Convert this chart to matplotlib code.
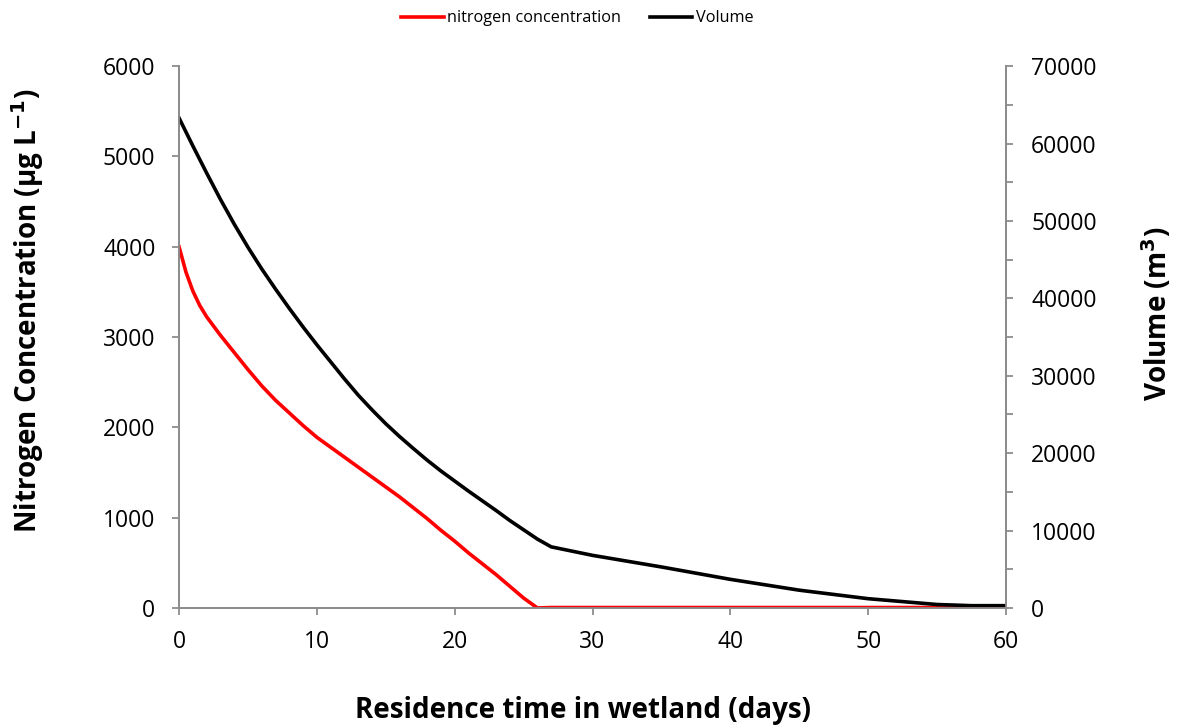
import matplotlib.pyplot as plt
from matplotlib.ticker import MultipleLocator
import numpy as np

plt.rcParams['font.family'] = ['Open Sans', 'DejaVu Sans']

# residence time (days)
days_n = [0, 0.5, 1, 1.5, 2, 3, 4, 5, 6, 7, 8, 9, 10, 11, 12, 13, 14, 15, 16, 17,
          18, 19, 20, 21, 22, 23, 24, 25, 26, 27, 30, 40, 50, 60]
nitrogen = [4000, 3720, 3510, 3350, 3225, 3020, 2830, 2640, 2460, 2300, 2160, 2020,
            1890, 1780, 1670, 1560, 1450, 1340, 1230, 1110, 990, 860, 740, 610, 490,
            370, 240, 110, 0, 5, 5, 5, 5, 5]

days_v = [0, 1, 2, 3, 4, 5, 6, 7, 8, 9, 10, 11, 12, 13, 14, 15, 16, 17, 18, 19, 20,
          21, 22, 23, 24, 25, 26, 27, 30, 35, 40, 45, 50, 55, 57.5, 60]
volume = [63300, 59700, 56200, 52800, 49600, 46600, 43800, 41200, 38700, 36300, 34000,
          31800, 29600, 27500, 25600, 23800, 22150, 20600, 19100, 17700, 16400, 15100,
          13850, 12600, 11300, 10100, 8900, 7900, 6800, 5300, 3700, 2300, 1200, 450,
          300, 300]

grey = '#8c8c8c'

fig = plt.figure(figsize=(11.78, 7.27), dpi=100)
ax = fig.add_axes([0.152, 0.1637, 0.702, 0.7453])
ax2 = ax.twinx()

l1, = ax.plot(days_n, nitrogen, color='#ff0000', lw=2.6, label='nitrogen concentration', zorder=3)
l2, = ax2.plot(days_v, volume, color='black', lw=2.6, label='Volume')

ax.set_xlim(0, 60)
ax.set_ylim(0, 6000)
ax2.set_ylim(0, 70000)
ax.xaxis.set_major_locator(MultipleLocator(10))
ax.yaxis.set_major_locator(MultipleLocator(1000))
ax2.yaxis.set_major_locator(MultipleLocator(10000))
ax2.yaxis.set_minor_locator(MultipleLocator(5000))

for a in (ax, ax2):
    a.spines['top'].set_visible(False)
    for s in ('left', 'right', 'bottom'):
        a.spines[s].set_color(grey)
        a.spines[s].set_linewidth(1.3)
    a.tick_params(colors=grey, labelcolor='black', labelsize=16.5, width=1.3, length=5)
ax2.tick_params(which='minor', colors=grey, width=1.3, length=5)
ax.tick_params(axis='x', pad=11)
ax.tick_params(axis='y', pad=12)
ax2.tick_params(axis='y', pad=13)

ax.set_xlabel('Residence time in wetland (days)', fontsize=20, fontweight='bold', labelpad=30)
ax.xaxis.label.set_x(0.489)
ax.set_ylabel('Nitrogen Concentration (μg L$^{\\mathbf{-1}}$)', fontsize=20, fontweight='bold')
ax.yaxis.set_label_coords(-0.161, 0.548)
ax2.set_ylabel('Volume (m$^{\\mathbf{3}}$)', fontsize=20, fontweight='bold')
ax2.yaxis.set_label_coords(1.162, 0.542)

fig.legend(handles=[l1, l2], loc='upper center', bbox_to_anchor=(0.49, 1.006), ncol=2,
           frameon=False, fontsize=11.7, handlelength=2.6, handletextpad=0.2, columnspacing=1.8)

fig.savefig('out.png', dpi=100)
